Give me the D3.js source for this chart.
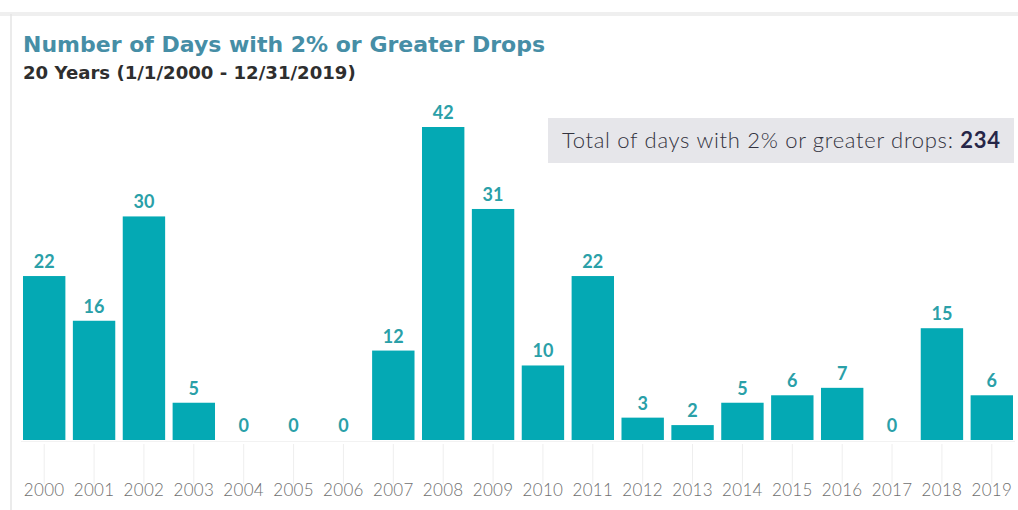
<!DOCTYPE html>
<html>
<head>
<meta charset="utf-8">
<script src="https://cdn.jsdelivr.net/npm/d3@7"></script>
<style>
  body { margin: 0; background: #fff; }
  svg { display: block; }
</style>
</head>
<body>
<div id="chart"></div>
<script>
  // data
  let years = ['2000','2001','2002','2003','2004','2005','2006','2007','2008','2009',
               '2010','2011','2012','2013','2014','2015','2016','2017','2018','2019'];
  let drops = [22,16,30,5,0,0,0,12,42,31,10,22,3,2,5,6,7,0,15,6];
  let total = d3.sum(drops);

  let width = 1018, height = 510;
  let margin = {left: 21, right: 3, top: 127, bottom: 70};
  let baseY = height - margin.bottom;

  let svg = d3.select('#chart')
    .append('svg')
    .attr('width', width)
    .attr('height', height);

  // card border / shadow
  svg.append('rect')
    .attr('x', 0).attr('y', 12).attr('width', width).attr('height', 4)
    .attr('fill', '#efefef');
  svg.append('line')
    .attr('x1', 11).attr('x2', 11).attr('y1', 14).attr('y2', height)
    .attr('stroke', '#e4e4e4').attr('stroke-width', 1.5);

  let x = d3.scaleBand()
    .domain(years)
    .range([margin.left, width - margin.right])
    .paddingInner(0.15)
    .paddingOuter(0.04);

  let y = d3.scaleLinear()
    .domain([0, 42])
    .range([baseY, margin.top]);

  // category tick lines below the baseline
  svg.selectAll('line.tick')
    .data(years).enter()
    .append('line')
    .attr('class', 'tick')
    .attr('x1', d => x(d) + x.bandwidth() / 2)
    .attr('x2', d => x(d) + x.bandwidth() / 2)
    .attr('y1', baseY + 4)
    .attr('y2', baseY + 44)
    .attr('stroke', '#eeeeee');

  svg.append('line')
    .attr('x1', margin.left).attr('x2', width - margin.right)
    .attr('y1', baseY + 1.5).attr('y2', baseY + 1.5)
    .attr('stroke', '#f2f2f2');

  // bars
  svg.selectAll('rect.bar')
    .data(drops).enter()
    .append('rect')
    .attr('class', 'bar')
    .attr('x', (d, i) => x(years[i]))
    .attr('width', x.bandwidth())
    .attr('y', d => y(d))
    .attr('height', d => baseY - y(d))
    .attr('fill', '#04a9b4');

  // value labels
  svg.selectAll('text.val')
    .data(drops).enter()
    .append('text')
    .attr('class', 'val')
    .attr('x', (d, i) => x(years[i]) + x.bandwidth() / 2)
    .attr('y', d => y(d) - 8)
    .attr('text-anchor', 'middle')
    .attr('font-family', 'Lato, sans-serif')
    .attr('font-weight', 700)
    .attr('font-size', 18)
    .attr('fill', '#2aa0a8')
    .text(d => d);

  // year labels
  svg.selectAll('text.year')
    .data(years).enter()
    .append('text')
    .attr('class', 'year')
    .attr('x', d => x(d) + x.bandwidth() / 2)
    .attr('y', baseY + 56)
    .attr('text-anchor', 'middle')
    .attr('font-family', 'Lato, sans-serif')
    .attr('font-weight', 300)
    .attr('font-size', 17)
    .attr('fill', '#6f6f6f')
    .attr('letter-spacing', 0.3)
    .text(d => d);

  // titles
  svg.append('text')
    .attr('x', 23).attr('y', 52)
    .attr('font-family', '"DejaVu Sans", sans-serif')
    .attr('font-weight', 700)
    .attr('font-size', 22)
    .attr('fill', '#468ea6')
    .text('Number of Days with 2% or Greater Drops');

  svg.append('text')
    .attr('x', 23).attr('y', 79)
    .attr('font-family', '"DejaVu Sans", sans-serif')
    .attr('font-weight', 700)
    .attr('font-size', 18.1)
    .attr('fill', '#2e2e2e')
    .text('20 Years (1/1/2000 - 12/31/2019)');

  // total box
  svg.append('rect')
    .attr('x', 548).attr('y', 118)
    .attr('width', 466).attr('height', 45)
    .attr('fill', '#e6e6ea');

  let t = svg.append('text')
    .attr('x', 562).attr('y', 148)
    .attr('font-family', 'Lato, sans-serif')
    .attr('font-size', 22)
    .attr('letter-spacing', 0.7)
    .attr('fill', '#333340');
  t.append('tspan').attr('font-weight', 300).text('Total of days with 2% or greater drops:  ');
  t.append('tspan').attr('font-weight', 700).attr('fill', '#262648').text(total);
</script>
</body>
</html>
